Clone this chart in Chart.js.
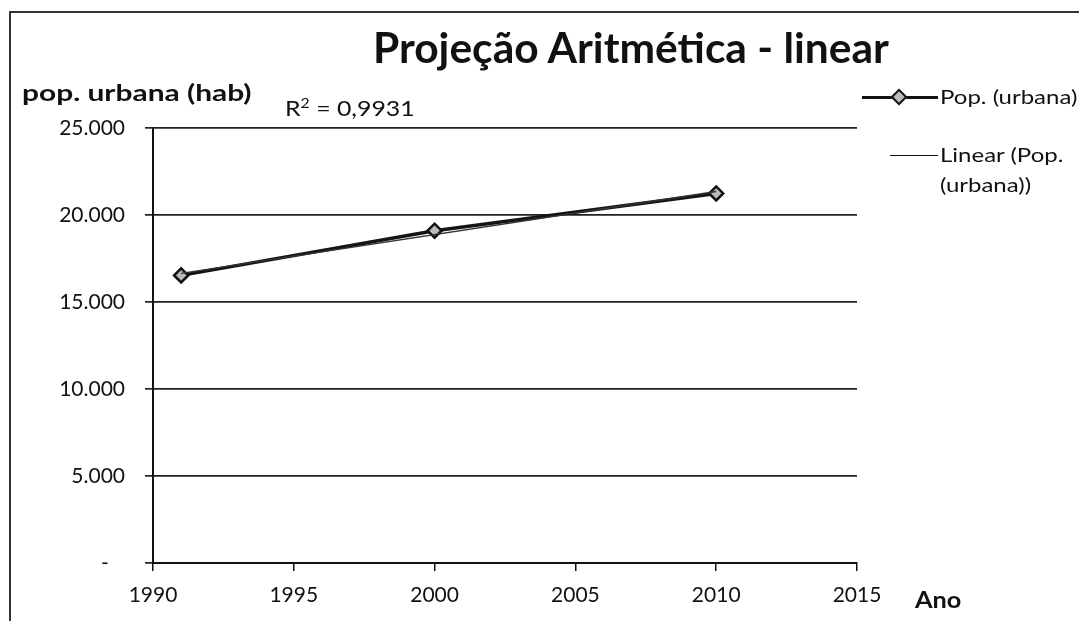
<!DOCTYPE html>
<html>
<head>
<meta charset="utf-8">
<script src="https://cdn.jsdelivr.net/npm/chart.js@4/dist/chart.umd.min.js"></script>
<style>
  body { margin: 0; background: #fff; }
  #wrap { position: relative; width: 1079px; height: 621px; overflow: hidden; font-family: Lato, "Open Sans", sans-serif; color: #111; }
  #frame { position: absolute; left: 9px; top: 11px; width: 1200px; height: 700px; border-top: 2px solid #333; border-left: 2px solid #333; }
  #chart { position: absolute; left: 0; top: 0; }
  .txt { position: absolute; white-space: nowrap; transform-origin: left center; }
  #title { left: 373px; top: 21px; font-size: 42.5px; font-weight: bold; }
  #ytitle { left: 22px; top: 78px; font-size: 23px; font-weight: bold; transform: scaleX(1.3); }
  #r2 { left: 285px; top: 94px; font-size: 22px; transform: scaleX(1.13); }
  #xtitle { left: 915px; top: 585px; font-size: 23px; font-weight: bold; transform: scaleX(1.1); }
  .leg { font-size: 20px; transform: scaleX(1.2); }
  .legline { position: absolute; height: 0; }
  #diamond { position: absolute; left: 893px; top: 91px; width: 8px; height: 8px; transform: rotate(45deg); background: #bbb; border: 2.5px solid #111; }
</style>
</head>
<body>
<div id="wrap">
  <div id="frame"></div>
  <canvas id="chart" width="1079" height="621"></canvas>
  <div class="txt" id="title">Projeção Aritmética - linear</div>
  <div class="txt" id="ytitle">pop. urbana (hab)</div>
  <div class="txt" id="r2">R<sup style="font-size:14px">2</sup> = 0,9931</div>
  <div class="txt" id="xtitle">Ano</div>
  <div class="legline" style="left:862px; top:96px; width:76px; border-top:3px solid #111;"></div>
  <div id="diamond"></div>
  <div class="txt leg" style="left:940px; top:84px;">Pop. (urbana)</div>
  <div class="legline" style="left:890px; top:155px; width:48px; border-top:1.5px solid #111;"></div>
  <div class="txt leg" style="left:940px; top:142px;">Linear (Pop.</div>
  <div class="txt leg" style="left:940px; top:172px;">(urbana))</div>
</div>
<script>
// dados
const anos = [1991, 2000, 2010];
const popUrbana = [16530, 19100, 21240];
// linha de tendência (extremos)
const anosTendencia = [1991, 2010];
const valoresTendencia = [16650, 21350];
const ticksY = [0, 5000, 10000, 15000, 20000, 25000];
const ticksX = [1990, 1995, 2000, 2005, 2010, 2015];

function formatarMilhar(v) {
    if (v === 0) return '-   ';
    return v.toLocaleString('de-DE');
}

const ctx = document.getElementById('chart');
new Chart(ctx, {
    type: 'scatter',
    data: {
        datasets: [
            {
                label: 'Pop. (urbana)',
                data: anos.map((a, i) => ({ x: a, y: popUrbana[i] })),
                showLine: true,
                borderColor: '#151515',
                borderWidth: 3.5,
                pointStyle: 'rectRot',
                pointRadius: 7,
                pointBackgroundColor: '#bbb',
                pointBorderColor: '#111',
                pointBorderWidth: 2.5,
                order: 2
            },
            {
                label: 'Linear (Pop. (urbana))',
                data: anosTendencia.map((a, i) => ({ x: a, y: valoresTendencia[i] })),
                showLine: true,
                borderColor: '#333',
                borderWidth: 1.3,
                pointRadius: 0,
                order: 1
            }
        ]
    },
    options: {
        responsive: false,
        animation: false,
        layout: { padding: { left: 0, right: 222, top: 128, bottom: 0 } },
        plugins: { legend: { display: false }, tooltip: { enabled: false } },
        scales: {
            x: {
                type: 'linear',
                min: 1990,
                max: 2015,
                afterBuildTicks: s => { s.ticks = ticksX.map(v => ({ value: v })); },
                afterFit: s => { s.height = 58; },
                border: { color: '#111', width: 2 },
                grid: { drawOnChartArea: false, drawTicks: true, tickLength: 8, color: '#111', lineWidth: 1.5 },
                ticks: {
                    color: '#111',
                    padding: 12,
                    font: { family: 'Lato', size: 21 },
                    callback: v => String(v)
                }
            },
            y: {
                min: 0,
                max: 25000,
                afterBuildTicks: s => { s.ticks = ticksY.map(v => ({ value: v })); },
                afterFit: s => { s.width = 153; },
                border: { color: '#111', width: 2 },
                grid: { color: '#222', lineWidth: 1.7, tickLength: 8 },
                ticks: {
                    color: '#111',
                    padding: 20,
                    font: { family: 'Lato', size: 21 },
                    callback: v => formatarMilhar(v)
                }
            }
        }
    }
});
</script>
</body>
</html>
